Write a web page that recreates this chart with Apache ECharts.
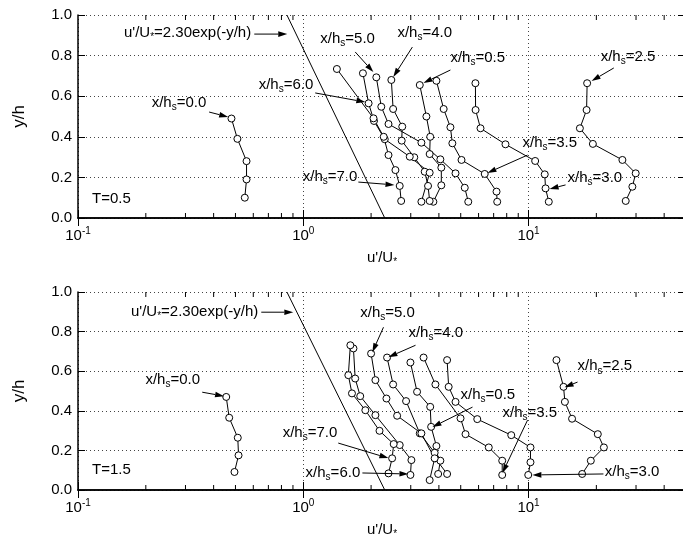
<!DOCTYPE html>
<html lang="en">
<head>
<meta charset="UTF-8">
<script src="https://cdn.jsdelivr.net/npm/echarts@6/dist/echarts.min.js"></script>
<title>u'/U* profiles</title>
</head>
<body style="margin:0; background:#fff;">
<div id="container" style="width:683px; height:541px;"></div>
<script>
// log-axis minor tick positions (2..9 per decade)
const minorTicks = [0.2, 0.3, 0.4, 0.5, 0.6, 0.7, 0.8, 0.9, 2, 3, 4, 5, 6, 7, 8, 9, 20, 30, 40];
// u'/U* = 2.30 exp(-y/h), two end points (straight on semi-log)
const fitLine = [[2.30, 0.0], [0.846, 1.0]];

// T = 0.5 profiles  [u'/U*, y/h]
const t00 = [[0.48, 0.49], [0.51, 0.39], [0.56, 0.28], [0.56, 0.19], [0.55, 0.10]];
const t05 = [[3.29, 0.655], [3.52, 0.50], [3.66, 0.40], [3.64, 0.315], [4.10, 0.248], [4.10, 0.161], [3.78, 0.08]];
const t25 = [[18.2, 0.664], [18.1, 0.532], [16.9, 0.442], [19.3, 0.365], [26.1, 0.286], [29.9, 0.22], [28.9, 0.154], [27.0, 0.084]];
const t30 = [[5.81, 0.664], [5.82, 0.532], [6.12, 0.442], [7.90, 0.363], [10.7, 0.281], [11.8, 0.215], [11.9, 0.146], [12.3, 0.08]];
const t35 = [[3.90, 0.676], [4.20, 0.537], [4.50, 0.447], [4.59, 0.368], [5.04, 0.286], [6.39, 0.217], [7.21, 0.13], [7.26, 0.08]];
const t40 = [[2.46, 0.68], [2.505, 0.537], [2.75, 0.45], [2.735, 0.381], [3.11, 0.299], [3.46, 0.228], [3.58, 0.158], [3.64, 0.084]];
const t50 = [[2.11, 0.693], [2.22, 0.548], [2.39, 0.463], [3.345, 0.371], [4.06, 0.289], [4.74, 0.22], [5.21, 0.149], [5.40, 0.08]];
const t60 = [[1.84, 0.713], [1.95, 0.565], [2.06, 0.478], [2.30, 0.388], [2.97, 0.302], [3.64, 0.223], [3.345, 0.08]];
const t70 = [[1.41, 0.734], [2.05, 0.491], [2.275, 0.40], [2.39, 0.31], [2.565, 0.236], [2.68, 0.158], [2.72, 0.084]];

// T = 1.5 profiles
const b00 = [[0.455, 0.47], [0.469, 0.365], [0.512, 0.264], [0.516, 0.175], [0.495, 0.091]];
const b05 = [[2.99, 0.644], [3.20, 0.496], [3.66, 0.42], [3.695, 0.319], [3.90, 0.222], [3.86, 0.16], [4.35, 0.081]];
const b25 = [[13.3, 0.656], [14.3, 0.521], [14.5, 0.445], [15.6, 0.36], [20.3, 0.282], [21.6, 0.215], [18.9, 0.148], [17.3, 0.081]];
const b30 = [[4.35, 0.656], [4.42, 0.521], [4.74, 0.445], [5.92, 0.358], [8.38, 0.277], [10.2, 0.215], [10.2, 0.14], [9.97, 0.076]];
const b35 = [[3.42, 0.669], [3.86, 0.533], [4.99, 0.362], [5.25, 0.282], [6.66, 0.215], [7.64, 0.148], [7.64, 0.076]];
const b40 = [[2.355, 0.669], [2.505, 0.533], [2.86, 0.449], [3.29, 0.286], [3.83, 0.188], [4.06, 0.148], [3.97, 0.081]];
const b50 = [[2.0, 0.689], [2.09, 0.555], [2.34, 0.462], [2.61, 0.375], [3.345, 0.286], [3.83, 0.16], [3.64, 0.05]];
const b60 = [[1.67, 0.715], [1.70, 0.563], [1.79, 0.474], [2.09, 0.378], [2.68, 0.227], [3.02, 0.151], [2.99, 0.076]];
const b70 = [[1.618, 0.731], [1.585, 0.58], [1.645, 0.488], [1.886, 0.403], [2.18, 0.299], [2.52, 0.232], [2.48, 0.16], [2.39, 0.084]];

const topProfiles = [t00, t05, t25, t30, t35, t40, t50, t60, t70];
const botProfiles = [b00, b05, b25, b30, b35, b40, b50, b60, b70];

// annotations: text, text anchor (data coords), alignment, arrow from -> to
const hs = v => '{n|x/h}{s|s}{n|=' + v + '}';
const formula = "{n|u'/U}{s|*}{n|=2.30exp(-y/h)}";
const topNotes = [
    {text: formula, at: [0.587, 0.911], align: 'right', from: [0.606, 0.906], to: [0.849, 0.906]},
    {text: hs('0.0'), at: [0.371, 0.567], align: 'right', from: [0.382, 0.522], to: [0.464, 0.498]},
    {text: '{n|T=0.5}', at: [0.1154, 0.094], align: 'left'},
    {text: hs('6.0'), at: [1.108, 0.655], align: 'right', from: [1.13, 0.616], to: [1.886, 0.571]},
    {text: hs('5.0'), at: [1.19, 0.882], align: 'left', from: [1.70, 0.818], to: [2.047, 0.719]},
    {text: hs('7.0'), at: [1.738, 0.202], align: 'right', from: [1.756, 0.177], to: [2.54, 0.163]},
    {text: hs('4.0'), at: [2.617, 0.911], align: 'left', from: [3.05, 0.842], to: [2.51, 0.695]},
    {text: hs('0.5'), at: [4.50, 0.788], align: 'left', from: [4.50, 0.729], to: [3.415, 0.665]},
    {text: hs('2.5'), at: [20.9, 0.793], align: 'left', from: [23.9, 0.739], to: [19.05, 0.675]},
    {text: hs('3.5'), at: [9.40, 0.369], align: 'left', from: [9.90, 0.310], to: [6.57, 0.222]},
    {text: hs('3.0'), at: [14.9, 0.197], align: 'left', from: [14.6, 0.163], to: [12.4, 0.143]}
];
const botNotes = [
    {text: formula, at: [0.631, 0.898], align: 'right', from: [0.651, 0.898], to: [0.903, 0.898]},
    {text: hs('0.0'), at: [0.348, 0.555], align: 'right', from: [0.356, 0.494], to: [0.445, 0.474]},
    {text: '{n|T=1.5}', at: [0.1154, 0.101], align: 'left'},
    {text: hs('7.0'), at: [1.416, 0.287], align: 'right', from: [1.43, 0.237], to: [2.387, 0.161]},
    {text: hs('6.0'), at: [1.79, 0.086], align: 'right', from: [1.83, 0.086], to: [2.93, 0.081]},
    {text: hs('5.0'), at: [1.79, 0.893], align: 'left', from: [2.27, 0.822], to: [2.026, 0.696]},
    {text: hs('4.0'), at: [2.93, 0.792], align: 'left', from: [3.15, 0.731], to: [2.387, 0.671]},
    {text: hs('0.5'), at: [4.99, 0.479], align: 'left', from: [5.64, 0.4186], to: [3.745, 0.318]},
    {text: hs('3.5'), at: [7.66, 0.388], align: 'left', from: [9.9, 0.353], to: [7.66, 0.086]},
    {text: hs('2.5'), at: [16.5, 0.625], align: 'left', from: [16.5, 0.545], to: [14.45, 0.519]},
    {text: hs('3.0'), at: [21.8, 0.091], align: 'left', from: [21.5, 0.081], to: [10.4, 0.076]}
];

const FONT = "'Liberation Sans', Arial, sans-serif";
const RICH = {
    n: {fontSize: 15, fontFamily: FONT, color: '#000'},
    s: {fontSize: 10, fontFamily: FONT, color: '#000', padding: [9, 0, 0, 0]},
    b: {fontSize: 15, fontFamily: FONT, color: '#000'},
    p: {fontSize: 10, fontFamily: FONT, color: '#000', padding: [0, 0, 9, 0]}
};

let dom = document.getElementById('container');
let myChart = echarts.init(dom, null, {renderer: 'canvas'});

// right edge sits just past the page edge, as in the scan
const grids = [
    {left: 78, top: 15, width: 608, height: 203, outerBoundsMode: 'none', containLabel: false},
    {left: 78, top: 292, width: 608, height: 198, outerBoundsMode: 'none', containLabel: false}
];

function logLabel(v) {
    const e = Math.round(Math.log10(v));
    if (Math.abs(v - Math.pow(10, e)) > 1e-6 * v || e > 1) return '';
    return '{b|10}{p|' + e + '}';
}

let xAxes = [], yAxes = [];
grids.forEach(function (g, i) {
    xAxes.push({
        type: 'log', logBase: 10, min: 0.1, max: 50, gridIndex: i, position: 'bottom',
        name: "{n|u'/U}{s|*}", nameLocation: 'middle', nameGap: 30,
        nameTextStyle: {rich: RICH},
        axisLine: {lineStyle: {color: '#000', width: 1.5}},
        axisTick: {inside: true, length: 8, lineStyle: {color: '#000'}},
        axisLabel: {formatter: logLabel, rich: RICH, margin: 8},
        splitLine: {show: true, lineStyle: {color: '#444', type: [1, 3], width: 1}}
    });
    xAxes.push({
        type: 'log', logBase: 10, min: 0.1, max: 50, gridIndex: i, position: 'top',
        axisLine: {lineStyle: {color: '#000', width: 1.5}},
        axisTick: {inside: true, length: 8, lineStyle: {color: '#000'}},
        axisLabel: {show: false}, splitLine: {show: false}
    });
    yAxes.push({
        type: 'value', min: 0, max: 1, interval: 0.2, gridIndex: i,
        name: 'y/h', nameLocation: 'middle', nameGap: 50, nameRotate: 90,
        nameTextStyle: {fontSize: 17, fontFamily: FONT, color: '#000'},
        axisLine: {lineStyle: {color: '#000', width: 1.5}},
        axisTick: {inside: true, length: 7, lineStyle: {color: '#000'}},
        axisLabel: {formatter: v => v.toFixed(1), fontSize: 15, fontFamily: FONT, color: '#000', margin: 6},
        splitLine: {show: true, lineStyle: {color: '#444', type: [1, 3], width: 1}}
    });
    yAxes.push({
        type: 'value', min: 0, max: 1, interval: 0.2, gridIndex: i, position: 'right',
        axisLine: {lineStyle: {color: '#000', width: 1.5}},
        axisTick: {inside: true, length: 8, lineStyle: {color: '#000'}},
        axisLabel: {show: false}, splitLine: {show: false}
    });
});

function profileSeries(data, i) {
    return {
        type: 'line', xAxisIndex: 2 * i, yAxisIndex: 2 * i, data: data,
        symbol: 'circle', symbolSize: 7, showSymbol: true,
        lineStyle: {color: '#000', width: 1},
        itemStyle: {color: '#fff', borderColor: '#000', borderWidth: 1},
        animation: false, z: 3
    };
}

function minorTickSeries(i) {
    return {
        type: 'custom', xAxisIndex: 2 * i, yAxisIndex: 2 * i,
        data: minorTicks.map(v => [v, 0]),
        renderItem: function (params, api) {
            const b = api.coord([api.value(0), 0]);
            const t = api.coord([api.value(0), 1]);
            const st = {stroke: '#000', lineWidth: 1};
            return {type: 'group', children: [
                {type: 'line', shape: {x1: b[0], y1: b[1], x2: b[0], y2: b[1] - 5}, style: st},
                {type: 'line', shape: {x1: t[0], y1: t[1], x2: t[0], y2: t[1] + 5}, style: st}
            ]};
        },
        animation: false, silent: true
    };
}

function noteSeries(notes, i) {
    return {
        type: 'custom', xAxisIndex: 2 * i, yAxisIndex: 2 * i,
        data: notes.map(n => [n.at[0], n.at[1]]),
        renderItem: function (params, api) {
            const n = notes[params.dataIndex];
            const t = api.coord(n.at);
            const kids = [{
                type: 'text', x: t[0], y: t[1], z2: 10,
                style: {text: n.text, rich: RICH, align: n.align, verticalAlign: 'middle', fill: '#000'}
            }];
            if (n.from) {
                const a = api.coord(n.from), b = api.coord(n.to);
                const dx = b[0] - a[0], dy = b[1] - a[1];
                const len = Math.sqrt(dx * dx + dy * dy);
                const ux = dx / len, uy = dy / len;
                const hl = 9, hw = 2.8;
                const bx = b[0] - ux * hl, by = b[1] - uy * hl;
                kids.push({type: 'line', shape: {x1: a[0], y1: a[1], x2: bx, y2: by},
                    style: {stroke: '#000', lineWidth: 1}});
                kids.push({type: 'polygon', shape: {points: [[b[0], b[1]],
                        [bx - uy * hw, by + ux * hw], [bx + uy * hw, by - ux * hw]]},
                    style: {fill: '#000'}});
            }
            return {type: 'group', children: kids};
        },
        animation: false, silent: true, z: 5
    };
}

let series = [];
[topProfiles, botProfiles].forEach(function (set, i) {
    series.push({
        type: 'line', xAxisIndex: 2 * i, yAxisIndex: 2 * i, data: fitLine,
        symbol: 'none', lineStyle: {color: '#000', width: 1}, animation: false, z: 2
    });
    set.forEach(d => series.push(profileSeries(d, i)));
    series.push(minorTickSeries(i));
});
series.push(noteSeries(topNotes, 0));
series.push(noteSeries(botNotes, 1));

let option = {
    backgroundColor: '#fff',
    animation: false,
    grid: grids,
    xAxis: xAxes,
    yAxis: yAxes,
    series: series
};
myChart.setOption(option);
</script>
</body>
</html>
